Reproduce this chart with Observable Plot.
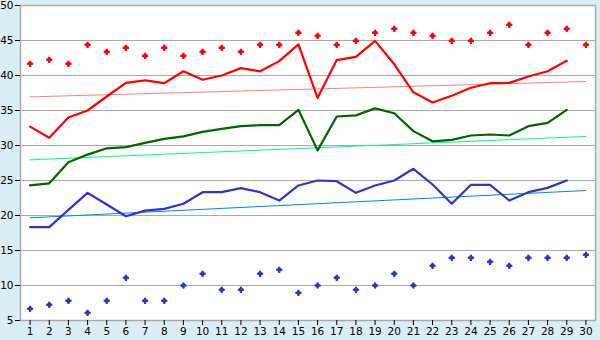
<!DOCTYPE html>
<html><head><meta charset="utf-8">
<script src="https://cdn.jsdelivr.net/npm/d3@7"></script>
<script src="https://cdn.jsdelivr.net/npm/@observablehq/plot@0.6"></script>
<style>body{margin:0;background:#daeef5}</style>
</head><body><div id="chart"></div>
<script>
const days = [1,2,3,4,5,6,7,8,9,10,11,12,13,14,15,16,17,18,19,20,21,22,23,24,25,26,27,28,29,30];
const yTicks = [5,10,15,20,25,30,35,40,45,50];

const redLine = [32.7,31.1,34.0,35.0,37.0,38.95,39.3,38.9,40.6,39.4,40.0,41.05,40.6,42.05,44.45,36.8,42.2,42.65,44.95,41.6,37.6,36.15,37.1,38.25,38.9,38.95,39.85,40.6,42.1];
const redPts = [41.67,42.24,41.67,44.38,43.38,43.95,42.8,43.95,42.8,43.38,43.95,43.38,44.38,44.38,46.1,45.67,44.38,44.95,46.1,46.67,46.1,45.67,44.95,44.95,46.1,47.24,44.38,46.1,46.67,44.38];
const greenLine = [24.3,24.6,27.6,28.7,29.6,29.76,30.38,30.95,31.3,31.95,32.38,32.76,32.9,32.9,35.1,29.3,34.14,34.3,35.3,34.6,32.05,30.6,30.8,31.43,31.57,31.43,32.76,33.24,35.1];
const blueLine = [18.33,18.33,20.8,23.24,21.57,19.9,20.7,20.95,21.67,23.33,23.33,23.9,23.33,22.14,24.29,25.0,24.9,23.24,24.29,25.0,26.67,24.43,21.67,24.38,24.38,22.14,23.33,23.95,25.0];
const bluePts = [6.67,7.24,7.81,6.1,7.81,11.1,7.81,7.81,10.0,11.67,9.38,9.38,11.67,12.24,8.95,10.0,11.1,9.38,10.0,11.67,10.0,12.81,13.95,13.95,13.38,12.81,13.95,13.95,13.95,14.38];
const trendDays = [1,30];
const redTrend = [36.95,39.14];
const greenTrend = [27.95,31.29];
const blueTrend = [19.67,23.57];

const ser = vals => vals.map((v,i)=>({day:days[i], value:v}));
const tr = vals => vals.map((v,i)=>({day:trendDays[i], value:v}));

const chart = Plot.plot({
  width:600, height:340,
  marginLeft:20, marginRight:5, marginTop:5, marginBottom:20,
  style:{background:"#daeef5", fontFamily:"DejaVu Sans", fontSize:"10.5px", color:"#000", overflow:"visible"},
  x:{domain:[0.5,30.5]},
  y:{domain:[5,50]},
  marks:[
    Plot.frame({fill:"white", stroke:null}),
    Plot.gridY(yTicks,{stroke:"#aaa", strokeOpacity:1}),
    Plot.frame({stroke:"#aaa", strokeWidth:1.5}),
    Plot.line(tr(redTrend),{x:"day", y:"value", stroke:"#ff8080", strokeWidth:1}),
    Plot.line(tr(greenTrend),{x:"day", y:"value", stroke:"#00ff80", strokeWidth:1}),
    Plot.line(tr(blueTrend),{x:"day", y:"value", stroke:"#0080ff", strokeWidth:1}),
    Plot.line(ser(redLine),{x:"day", y:"value", stroke:"#ff0000", strokeWidth:2.2}),
    Plot.line(ser(greenLine),{x:"day", y:"value", stroke:"#006400", strokeWidth:2.2}),
    Plot.line(ser(blueLine),{x:"day", y:"value", stroke:"#3333cc", strokeWidth:2.2}),
    Plot.dot(ser(redPts),{x:"day", y:"value", symbol:"square", rotate:45, r:2.4, fill:"#ff0000"}),
    Plot.dot(ser(redPts),{x:"day", y:"value", symbol:"cross", r:2.6, fill:"#ff0000"}),
    Plot.dot(ser(bluePts),{x:"day", y:"value", symbol:"square", rotate:45, r:2.4, fill:"#3333cc"}),
    Plot.dot(ser(bluePts),{x:"day", y:"value", symbol:"cross", r:2.6, fill:"#3333cc"}),
    Plot.axisX({ticks:days, tickFormat:d=>String(d), tickSize:5, tickPadding:2, label:null, stroke:"#000"}),
    Plot.axisY({ticks:yTicks, tickSize:5, tickPadding:2, label:null, stroke:"#000"})
  ]
});
document.getElementById("chart").appendChild(chart);
</script>
</body></html>
